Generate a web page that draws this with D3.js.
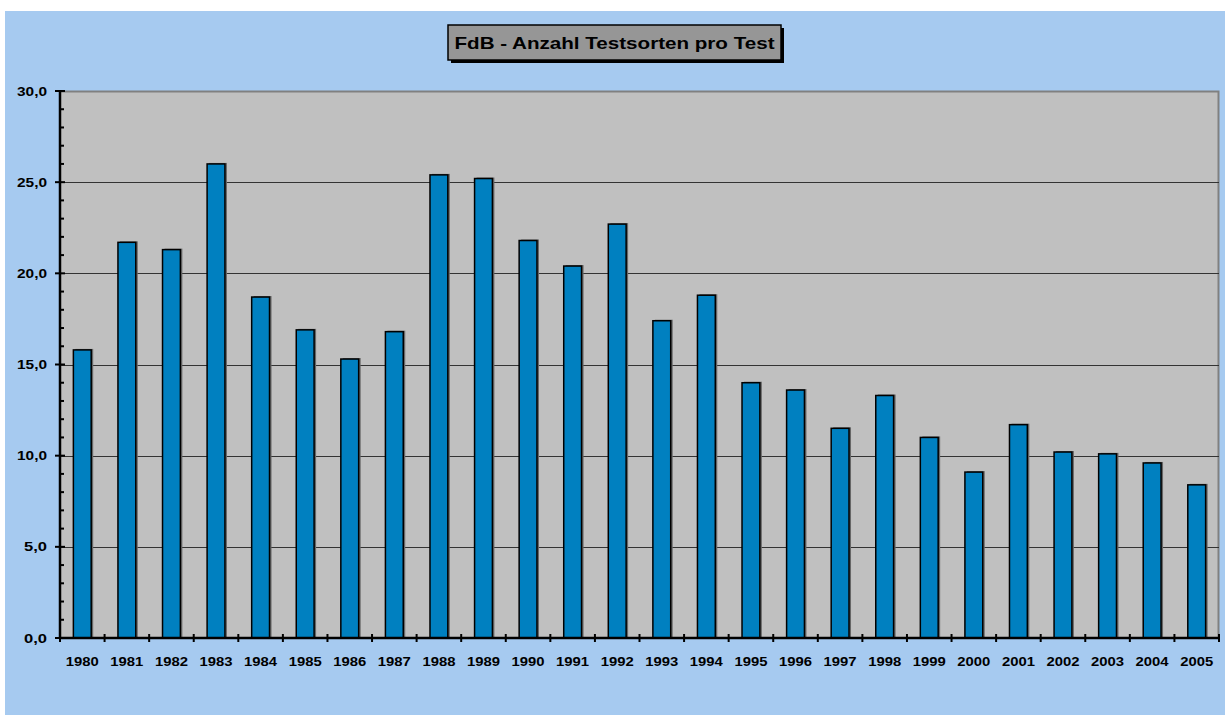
<!DOCTYPE html>
<html>
<head>
<meta charset="utf-8">
<script src="https://cdnjs.cloudflare.com/ajax/libs/d3/7.8.5/d3.min.js"></script>
<style>
  body { margin: 0; background: #fff; }
  text { font-family: Arial, "Liberation Sans", sans-serif; font-weight: bold; }
</style>
</head>
<body>
<div id="chart"></div>
<script>
// Data
let years = ["1980","1981","1982","1983","1984","1985","1986","1987","1988","1989",
             "1990","1991","1992","1993","1994","1995","1996","1997","1998","1999",
             "2000","2001","2002","2003","2004","2005"];
let sorten = [15.8, 21.7, 21.3, 26.0, 18.7, 16.9, 15.3, 16.8, 25.4, 25.2,
              21.8, 20.4, 22.7, 17.4, 18.8, 14.0, 13.6, 11.5, 13.3, 11.0,
              9.1, 11.7, 10.2, 10.1, 9.6, 8.4];
let yTicks = [0, 5, 10, 15, 20, 25, 30];
let title = "FdB - Anzahl Testsorten pro Test";

// Layout
let svgWidth = 1225, svgHeight = 715;
let margin = { top: 91, right: 6, bottom: 77, left: 60 };
let chartWidth = svgWidth - margin.left - margin.right;
let chartHeight = svgHeight - margin.top - margin.bottom;

let svg = d3.select('#chart')
            .append('svg')
            .attr('width', svgWidth)
            .attr('height', svgHeight);

// light blue chart area
svg.append('rect')
    .attr('x', 5).attr('y', 11)
    .attr('width', svgWidth - 5).attr('height', svgHeight - 11)
    .attr('fill', '#a6caf0');

// title box with shadow
let tb = { x: 448, y: 25, w: 333, h: 35 };
svg.append('rect')
    .attr('x', tb.x + 3).attr('y', tb.y + 3)
    .attr('width', tb.w).attr('height', tb.h)
    .attr('fill', '#000');
svg.append('rect')
    .attr('x', tb.x).attr('y', tb.y)
    .attr('width', tb.w).attr('height', tb.h)
    .attr('fill', '#969696')
    .attr('stroke', '#000')
    .attr('stroke-width', 1.5);
svg.append('text')
    .attr('x', tb.x + tb.w / 2)
    .attr('y', tb.y + tb.h / 2 + 6)
    .attr('text-anchor', 'middle')
    .attr('font-size', 16.5)
    .attr('textLength', 320)
    .attr('lengthAdjust', 'spacingAndGlyphs')
    .attr('fill', '#000')
    .text(title);

let chartGrp = svg.append('g')
    .attr('transform', `translate(${margin.left}, ${margin.top})`);

// Scales
let xScale = d3.scaleBand()
    .domain(years)
    .range([0, chartWidth])
    .paddingInner(0.6)
    .paddingOuter(0.3);
let yScale = d3.scaleLinear()
    .domain([0, 30])
    .range([chartHeight, 0]);

// plot background
chartGrp.append('rect')
    .attr('width', chartWidth).attr('height', chartHeight)
    .attr('fill', '#c0c0c0');
chartGrp.append('path')
    .attr('d', `M0,0.5H${chartWidth - 0.5}V${chartHeight}`)
    .attr('fill', 'none')
    .attr('stroke', '#808080')
    .attr('stroke-width', 2);

// gridlines
chartGrp.selectAll('.grid')
    .data(yTicks.filter(d => d > 0))
    .enter()
    .append('line')
    .attr('class', 'grid')
    .attr('x1', 0).attr('x2', chartWidth)
    .attr('y1', d => Math.round(yScale(d)) + 0.5)
    .attr('y2', d => Math.round(yScale(d)) + 0.5)
    .attr('stroke', d => d === 30 ? '#808080' : '#333')
    .attr('stroke-width', 1);

// bar shadows and bars
chartGrp.selectAll('.shadow')
    .data(sorten)
    .enter()
    .append('rect')
    .attr('class', 'shadow')
    .attr('x', (d, i) => xScale(years[i]) + 2)
    .attr('y', d => yScale(d) - 1)
    .attr('width', xScale.bandwidth())
    .attr('height', d => chartHeight - yScale(d) + 1)
    .attr('fill', '#666');

chartGrp.selectAll('.bar')
    .data(sorten)
    .enter()
    .append('rect')
    .attr('class', 'bar')
    .attr('x', (d, i) => xScale(years[i]))
    .attr('y', d => yScale(d))
    .attr('width', xScale.bandwidth())
    .attr('height', d => chartHeight - yScale(d))
    .attr('fill', '#0080c0')
    .attr('stroke', '#000')
    .attr('stroke-width', 1.5);

// y axis
let fmt = d => d3.format('.1f')(d).replace('.', ',');
let yAxis = chartGrp.append('g');
yAxis.append('line')
    .attr('x1', 0).attr('x2', 0)
    .attr('y1', 0).attr('y2', chartHeight + 1)
    .attr('stroke', '#000').attr('stroke-width', 2.5);
yAxis.selectAll('.minor')
    .data(d3.range(0, 31, 1).filter(d => d % 5 !== 0))
    .enter()
    .append('line')
    .attr('x1', 0).attr('x2', 4)
    .attr('y1', d => yScale(d)).attr('y2', d => yScale(d))
    .attr('stroke', '#000').attr('stroke-width', 2);
yAxis.selectAll('.major')
    .data(yTicks)
    .enter()
    .append('line')
    .attr('x1', -5).attr('x2', 5)
    .attr('y1', d => yScale(d)).attr('y2', d => yScale(d))
    .attr('stroke', '#000').attr('stroke-width', 2);
yAxis.selectAll('.ylab')
    .data(yTicks)
    .enter()
    .append('text')
    .attr('x', -13)
    .attr('y', d => yScale(d) + 4.5)
    .attr('text-anchor', 'end')
    .attr('font-size', 12)
    .attr('textLength', d => fmt(d).length === 4 ? 30 : 23)
    .attr('lengthAdjust', 'spacingAndGlyphs')
    .text(fmt);

// x axis
let xAxis = chartGrp.append('g')
    .attr('transform', `translate(0, ${chartHeight})`);
xAxis.append('line')
    .attr('x1', 0).attr('x2', chartWidth)
    .attr('stroke', '#000').attr('stroke-width', 2.5);
let step = xScale.step();
xAxis.selectAll('.xtick')
    .data(d3.range(0, years.length + 1))
    .enter()
    .append('line')
    .attr('x1', i => i * step).attr('x2', i => i * step)
    .attr('y1', -4).attr('y2', 4)
    .attr('stroke', '#000').attr('stroke-width', 2);
xAxis.selectAll('.xlab')
    .data(years)
    .enter()
    .append('text')
    .attr('x', d => xScale(d) + xScale.bandwidth() / 2)
    .attr('y', 28)
    .attr('text-anchor', 'middle')
    .attr('font-size', 12.5)
    .attr('textLength', 33)
    .attr('lengthAdjust', 'spacingAndGlyphs')
    .text(d => d);
</script>
</body>
</html>
